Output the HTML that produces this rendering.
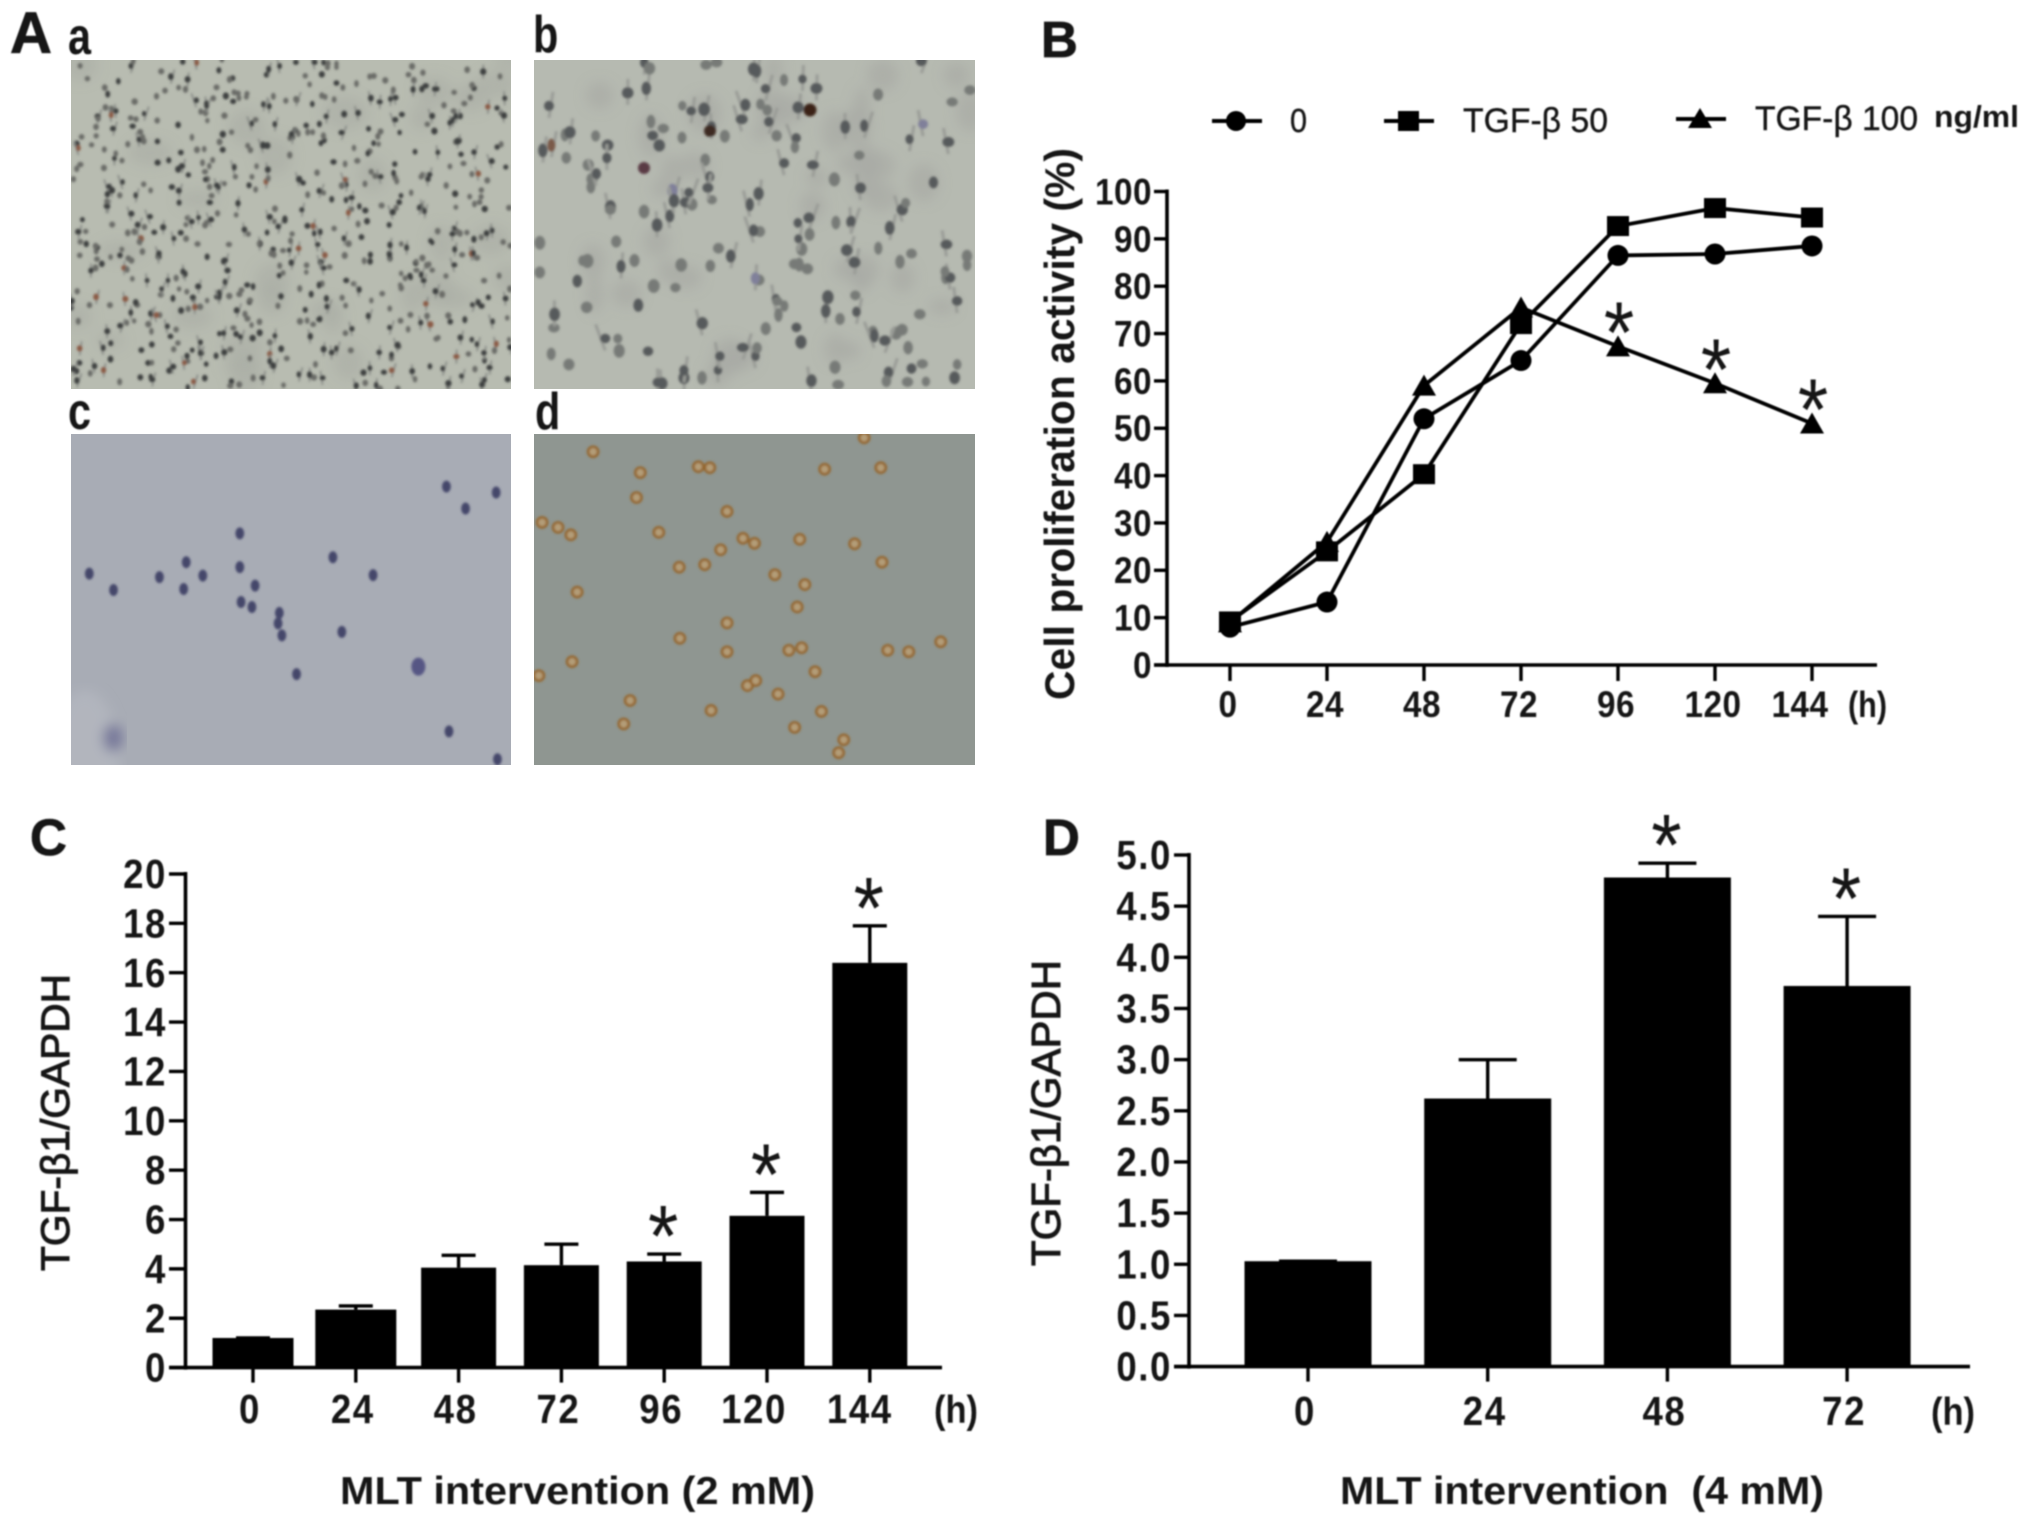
<!DOCTYPE html>
<html>
<head>
<meta charset="utf-8">
<title>Figure panels</title>
<style>
html,body{margin:0;padding:0;background:#fff;}
svg{display:block;}
text{font-family:"Liberation Sans",sans-serif;fill:#151515;}
.b{font-weight:bold;}
</style>
</head>
<body>
<svg id="fig" xmlns="http://www.w3.org/2000/svg" width="2031" height="1524" viewBox="0 0 2031 1524">
  <defs>
    <filter id="soft" x="-5%" y="-5%" width="110%" height="110%"><feGaussianBlur stdDeviation="0.8"/></filter>
    <filter id="cellblur" x="-5%" y="-5%" width="110%" height="110%"><feGaussianBlur stdDeviation="1.2"/></filter>
    <filter id="haze" x="-5%" y="-5%" width="110%" height="110%"><feGaussianBlur stdDeviation="6"/></filter>
    <clipPath id="clip-a"><rect x="71" y="60" width="440" height="329"/></clipPath>
    <clipPath id="clip-b"><rect x="534" y="60" width="441" height="329"/></clipPath>
    <clipPath id="clip-c"><rect x="71" y="434" width="440" height="331"/></clipPath>
    <clipPath id="clip-d"><rect x="534" y="434" width="441" height="331"/></clipPath>
  </defs>
  <rect x="0" y="0" width="2031" height="1524" fill="#fff"/>
  <g id="micro"></g>
  <g id="charts" filter="url(#soft)">
    <text class="b" x="10" y="53" font-size="58" stroke="#151515" stroke-width="0.8">A</text>
    <text class="b" x="1041" y="57" font-size="51" stroke="#151515" stroke-width="0.8">B</text>
    <text class="b" x="30" y="855" font-size="51" stroke="#151515" stroke-width="0.8">C</text>
    <text class="b" x="1043" y="855" font-size="51" stroke="#151515" stroke-width="0.8">D</text>
    <text class="b" transform="translate(68,54) scale(0.9,1.12)" font-size="46">a</text>
    <text class="b" transform="translate(533,52) scale(0.9,1.12)" font-size="46">b</text>
    <text class="b" transform="translate(68,429) scale(0.9,1.12)" font-size="46">c</text>
    <text class="b" transform="translate(535,429) scale(0.9,1.12)" font-size="46">d</text>

    <text class="b" transform="translate(1074,700) rotate(-90)" font-size="42" textLength="552" lengthAdjust="spacingAndGlyphs">Cell proliferation activity (%)</text>
    <text transform="translate(69,1271) rotate(-90)" font-size="40" stroke="#151515" stroke-width="1" textLength="297" lengthAdjust="spacingAndGlyphs">TGF-β1/GAPDH</text>
    <text transform="translate(1060,1266) rotate(-90)" font-size="41" stroke="#151515" stroke-width="1" textLength="306" lengthAdjust="spacingAndGlyphs">TGF-β1/GAPDH</text>
    <text class="b" x="340" y="1504" font-size="39" textLength="475" lengthAdjust="spacingAndGlyphs">MLT intervention (2 mM)</text>
    <text class="b" x="1340" y="1504" font-size="39" textLength="484" lengthAdjust="spacingAndGlyphs" xml:space="preserve">MLT intervention  (4 mM)</text>
    <text class="b" x="1848" y="717" font-size="36" textLength="39" lengthAdjust="spacingAndGlyphs">(h)</text>
    <text class="b" x="934" y="1423" font-size="39" textLength="44" lengthAdjust="spacingAndGlyphs">(h)</text>
    <text class="b" x="1931" y="1425" font-size="39" textLength="44" lengthAdjust="spacingAndGlyphs">(h)</text>

    <g>
      <line x1="1212" x2="1262" y1="121" y2="121" stroke="#000" stroke-width="4"/>
      <circle cx="1236" cy="121" r="10" fill="#000"/>
      <text x="1290" y="132" font-size="33" textLength="17" lengthAdjust="spacingAndGlyphs" stroke="#151515" stroke-width="0.4">0</text>
      <line x1="1384" x2="1434" y1="121" y2="121" stroke="#000" stroke-width="4"/>
      <rect x="1398" y="111" width="21" height="20" fill="#000"/>
      <text x="1463" y="132" font-size="34" textLength="145" lengthAdjust="spacingAndGlyphs" stroke="#151515" stroke-width="0.4">TGF-β 50</text>
      <line x1="1676" x2="1726" y1="119" y2="119" stroke="#000" stroke-width="4"/>
      <polygon points="1700,108 1712,128 1688,128" fill="#000"/>
      <text x="1755" y="130" font-size="34" textLength="163" lengthAdjust="spacingAndGlyphs" stroke="#151515" stroke-width="0.4">TGF-β 100</text>
      <text class="b" x="1934" y="127" font-size="31" textLength="85" lengthAdjust="spacingAndGlyphs">ng/ml</text>
    </g>
  </g>
</svg>
<script>
// ---- Panel B data ----
const bHours = ['0','24','48','72','96','120','144'];
const bYTicks = [0,10,20,30,40,50,60,70,80,90,100];
const bControl = [8,13.3,52,64.3,86.5,86.8,88.5];
const bTgf50 = [9.2,24,40.3,72,92.7,96.5,94.5];
const bTgf100 = [9,26,59,75.5,67.3,59.5,51];
const bTgf100Significant = [0,0,0,0,1,1,1];

// ---- Panel C data ----
const cHours = ['0','24','48','72','96','120','144'];
const cYTicks = [0,2,4,6,8,10,12,14,16,18,20];
const cValues = [1.2,2.35,4.05,4.15,4.3,6.15,16.4];
const cErrorTops = [1.2,2.5,4.55,5.0,4.6,7.1,17.9];
const cSignificant = [0,0,0,0,1,1,1];

// ---- Panel D data ----
const dHours = ['0','24','48','72'];
const dYTicks = ['0.0','0.5','1.0','1.5','2.0','2.5','3.0','3.5','4.0','4.5','5.0'];
const dValues = [1.03,2.62,4.78,3.72];
const dErrorTops = [1.03,3.0,4.92,4.4];
const dSignificant = [0,0,1,1];

const NS = 'http://www.w3.org/2000/svg';
const charts = document.getElementById('charts');
const micro = document.getElementById('micro');

function add(parent, tag, attrs, txt) {
  const n = document.createElementNS(NS, tag);
  for (const k in attrs) n.setAttribute(k, attrs[k]);
  if (txt !== undefined) n.textContent = txt;
  parent.appendChild(n);
  return n;
}

function drawAxes(g, o, yTicks, xLabels, xFn, yFn) {
  let el = add(g, 'line', {x1:o.left, x2:o.left, y1:yFn(o.yMax)-2, y2:o.y0+2, stroke:'#000', 'stroke-width':3.6});
  
  
  el = add(g, 'line', {x1:o.tickStart, x2:o.right, y1:o.y0, y2:o.y0, stroke:'#000', 'stroke-width':3.6});
  
  
  const stretch = ' scale(' + o.sx + ',' + o.sy + ')';
  yTicks.forEach(function (t) {
    const yy = yFn(parseFloat(t));
    const tick = add(g, 'line', {x1:o.tickStart, x2:o.left, y1:yy, y2:yy, stroke:'#000', 'stroke-width':3.4});
    
    
    const lab = add(g, 'text', {transform:'translate(' + (o.tickStart-2) + ',' + (yy+o.fs*0.38) + ')' + stretch, 'text-anchor':'end', 'font-size':o.fs, 'font-weight':'bold', 'letter-spacing':o.ls}, String(t));
    
    
  });
  xLabels.forEach(function (t, i) {
    const xx = xFn(i);
    const tick = add(g, 'line', {x1:xx, x2:xx, y1:o.y0, y2:o.y0+o.tickLen, stroke:'#000', 'stroke-width':3.4});
    
    
    const lab = add(g, 'text', {transform:'translate(' + (xx+o.labelShift(i)) + ',' + o.xLabelY + ')' + stretch, 'text-anchor':'middle', 'font-size':o.fs, 'font-weight':'bold', 'letter-spacing':o.ls}, t);
    
    
  });
}

function drawStar(g, cx, cy) {
  const s = add(g, 'text', {transform:'translate(' + cx + ',' + (cy+42) + ') scale(1,1.12)', 'text-anchor':'middle', 'font-size':78, fill:'#333'}, '*');
  
  
}

// ---- Line chart (panel B) ----
(function () {
  const o = {left:1167, right:1877, tickStart:1154, y0:665, yMax:100, fs:34, ls:0.5, sx:0.98, sy:1.08, tickLen:16, xLabelY:717,
    labelShift:function(i){ return i===6 ? -12 : -2; }};
  const yB = function (v) { return 665 - v * 4.735; };
  const xB = function (i) { return 1230 + i * 97; };
  const g = add(charts, 'g', {});
  
  
  drawAxes(g, o, bYTicks, bHours, xB, yB);

  function series(vals, name, marker) {
    const sg = add(g, 'g', {});
    
    
    const pts = vals.map(function (v, i) { return xB(i) + ',' + yB(v); }).join(' ');
    const line = add(sg, 'polyline', {points:pts, fill:'none', stroke:'#000', 'stroke-width':3.8, 'stroke-linejoin':'round'});
    
    
    vals.forEach(function (v, i) {
      const px = xB(i), py = yB(v);
      let m;
      if (marker === 'circle') m = add(sg, 'circle', {cx:px, cy:py, r:10.5, fill:'#000'});
      if (marker === 'square') m = add(sg, 'rect', {x:px-11, y:py-10, width:22, height:20, fill:'#000'});
      if (marker === 'triangle') m = add(sg, 'polygon', {points:(px)+','+(py-11)+' '+(px+12)+','+(py+10)+' '+(px-12)+','+(py+10), fill:'#000'});
      
      
    });
  }
  series(bControl, 'control', 'circle');
  series(bTgf50, 'tgf50', 'square');
  series(bTgf100, 'tgf100', 'triangle');
  bTgf100.forEach(function (v, i) {
    if (bTgf100Significant[i]) drawStar(g, xB(i) + 1, yB(v) - 26);
  });
})();

// ---- Bar charts (panels C, D) ----
function drawBars(o, name, cats, yTicks, vals, tops, sig) {
  const yFn = function (v) { return o.y0 - v / o.yMax * (o.y0 - o.yTop); };
  const xFn = function (i) { return o.x0 + i * o.step; };
  const g = add(charts, 'g', {});
  
  
  vals.forEach(function (v, i) {
    const w = o.barW(i);
    const top = yFn(v);
    const e = add(g, 'line', {x1:xFn(i), x2:xFn(i), y1:top, y2:yFn(tops[i]), stroke:'#000', 'stroke-width':3.4});
    
    
    const c = add(g, 'line', {x1:xFn(i)-o.cap/2, x2:xFn(i)+o.cap/2, y1:yFn(tops[i]), y2:yFn(tops[i]), stroke:'#000', 'stroke-width':3.4});
    
    
    const r = add(g, 'rect', {x:xFn(i)-w/2, y:top, width:w, height:o.y0-top, fill:'#000'});
    
    
    if (sig[i]) drawStar(g, xFn(i) - 1, yFn(tops[i]) - 30);
  });
  drawAxes(g, o, yTicks, cats, xFn, yFn);
}
drawBars({left:185.5, right:942, tickStart:169, y0:1367.6, yTop:874, yMax:20, x0:253, step:102.8, fs:37, ls:1.6, sx:0.99, sy:1.1, tickLen:15, xLabelY:1423,
  labelShift:function(i){ return i===5 ? -13 : (i===6 ? -10 : -3); }, cap:34, barW:function(i){return i<2?81:75;}},
  'tgf-beta-bar-chart-2mm', cHours, cYTicks, cValues, cErrorTops, cSignificant);
drawBars({left:1189, right:1970, tickStart:1174, y0:1366.6, yTop:855, yMax:5, x0:1308, step:179.7, fs:37, ls:1.6, sx:0.99, sy:1.1, tickLen:15, xLabelY:1425,
  labelShift:function(){ return -3; }, cap:58, barW:function(){return 127;}},
  'tgf-beta-bar-chart-4mm', dHours, dYTicks, dValues, dErrorTops, dSignificant);

// ---- Micrographs (illustrative texture) ----
function panel(id, x, y, w, h, bg) {
  const g = add(micro, 'g', {'clip-path':'url(#clip-' + id + ')'});
  
  
  add(g, 'rect', {x:x, y:y, width:w, height:h, fill:bg});
  return g;
}
let seed = 12345;
function rnd() { seed = (seed * 1664525 + 1013904223) % 4294967296; return seed / 4294967296; }

// Panel a: dense small nuclei
(function () {
  const g = panel('a', 71, 60, 440, 329, '#b8bcb1');
  const haze = add(g, 'g', {filter:'url(#haze)'});
  for (let i = 0; i < 30; i++) add(haze, 'ellipse', {cx:71+rnd()*440, cy:60+rnd()*329, rx:10+rnd()*14, ry:8+rnd()*12, fill:'#a8aca4', opacity:0.5});
  const cells = add(g, 'g', {filter:'url(#cellblur)'});
  for (let i = 0; i < 640; i++) {
    const cx = 71 + rnd() * 440, cy = 60 + rnd() * 329;
    const k = rnd();
    if (k < 0.3) add(cells, 'line', {x1:cx-5+rnd()*10, y1:cy-7, x2:cx, y2:cy+7, stroke:'#858884', 'stroke-width':1.6});
    add(cells, 'ellipse', {cx:cx, cy:cy, rx:2.2+rnd()*1, ry:2.6+rnd()*1, fill:k<0.04?'#8a5a44':(k<0.55?'#3e403f':'#6a6c68')});
  }
})();

// Panel b: larger grey nuclei
(function () {
  const g = panel('b', 534, 60, 441, 329, '#b6bab1');
  const haze = add(g, 'g', {filter:'url(#haze)'});
  for (let i = 0; i < 40; i++) add(haze, 'ellipse', {cx:534+rnd()*441, cy:60+rnd()*329, rx:8+rnd()*10, ry:8+rnd()*14, fill:'#a6a9a4', opacity:0.6});
  const cells = add(g, 'g', {filter:'url(#cellblur)'});
  for (let i = 0; i < 170; i++) {
    const cx = 534 + rnd() * 441, cy = 60 + rnd() * 329;
    const k = rnd();
    if (k < 0.4) add(cells, 'line', {x1:cx-10+rnd()*20, y1:cy-14, x2:cx, y2:cy+12, stroke:'#9a9c97', 'stroke-width':3});
    add(cells, 'ellipse', {cx:cx, cy:cy, rx:4+rnd()*2, ry:4.5+rnd()*2.5, fill:k<0.03?'#7a5a48':(k<0.07?'#80809a':(k<0.5?'#575a5b':'#777a77'))});
  }
  add(cells, 'circle', {cx:810, cy:110, r:6.5, fill:'#3b2417'});
  add(cells, 'circle', {cx:644, cy:168, r:6, fill:'#5a3a45'});
  add(cells, 'circle', {cx:710, cy:131, r:6, fill:'#3e2a22'});
})();

// Panel c: sparse blue cells
const cCells = [[700,978],[778,990],[730,1022],[376,1072],[292,1130],[376,1140],[522,1120],[585,1156],[140,1153],[178,1186],[250,1160],[318,1157],[288,1184],[400,1177],[378,1210],[395,1220],[438,1232],[436,1253],[442,1277],[536,1270],[465,1355],[656,1340],[704,1470],[780,1526]];
(function () {
  const g = panel('c', 71, 434, 440, 331, '#a8acb5');
  const haze = add(g, 'g', {filter:'url(#haze)'});
  add(haze, 'ellipse', {cx:85, cy:765, rx:35, ry:75, fill:'#b4b8bf', opacity:0.8});
  add(haze, 'ellipse', {cx:113, cy:738, rx:10, ry:14, fill:'#77789a'});
  const cells = add(g, 'g', {filter:'url(#cellblur)'});
  cCells.forEach(function (p, i) {
    add(cells, 'ellipse', {cx:p[0]/1.568, cy:p[1]/2.01, rx:i===21?7:4.4, ry:i===21?9:6, fill:i===21?'#565784':'#45476a'});
  });
})();

// Panel d: brown ring cells
const dCells = [[930,908],[1004,950],[998,1000],[1095,938],[1113,940],[1293,943],[1381,940],[1355,880],[1140,1028],[1165,1082],[1183,1092],[1254,1084],[1340,1093],[1383,1130],[1033,1070],[1105,1135],[1130,1105],[1065,1140],[1215,1155],[1262,1175],[1250,1220],[1140,1252],[1066,1283],[1140,1310],[1237,1307],[1257,1302],[1278,1350],[1172,1378],[1185,1368],[1220,1395],[988,1408],[978,1455],[1115,1428],[1288,1430],[1246,1462],[1323,1487],[1315,1513],[1392,1307],[1425,1310],[1475,1290],[897,1330],[845,1358],[905,1190],[850,1050],[875,1060],[895,1075]];
(function () {
  const g = panel('d', 534, 434, 441, 331, '#8f9691');
  const cells = add(g, 'g', {filter:'url(#cellblur)'});
  dCells.forEach(function (p) {
    add(cells, 'circle', {cx:p[0]/1.568, cy:p[1]/2.01, r:5, fill:'#b39d78', stroke:'#94652a', 'stroke-width':2.6});
  });
})();
</script>
</body>
</html>
